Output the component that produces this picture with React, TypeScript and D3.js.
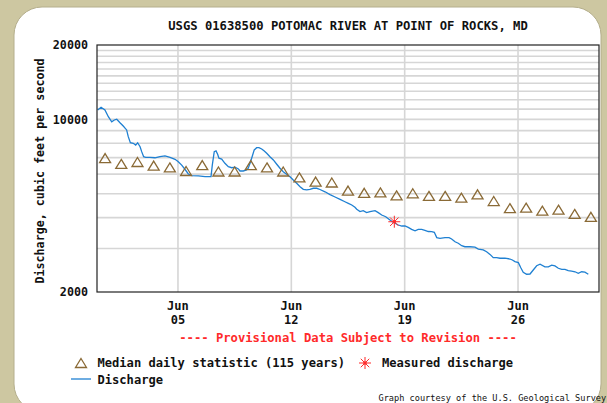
import React from "react";
import * as d3 from "d3";

const title = "USGS 01638500 POTOMAC RIVER AT POINT OF ROCKS, MD";
const yLabel = "Discharge, cubic feet per second";
const provisionalNote = "---- Provisional Data Subject to Revision ----";
const courtesy = "Graph courtesy of the U.S. Geological Survey";

const yTickValues = [2000, 10000, 20000];
const yGridValues = [
  3000, 4000, 5000, 6000, 7000, 8000, 9000, 10000,
  11000, 12000, 13000, 14000, 15000, 16000, 17000, 18000, 19000,
];

const startDate = new Date(2024, 4, 31);
const endDate = new Date(2024, 6, 1);
const xTickDates = [new Date(2024, 5, 5), new Date(2024, 5, 12), new Date(2024, 5, 19), new Date(2024, 5, 26)];
const xTickMonth = ["Jun", "Jun", "Jun", "Jun"];
const xTickDay = ["05", "12", "19", "26"];

// median daily statistic (115 years), May 31 .. Jun 30
const medianCfs = [
  6970, 6600, 6720, 6500, 6390, 6180, 6530, 6150, 6150, 6530, 6390,
  6150, 5820, 5600, 5550, 5150, 5040, 5060, 4920, 5020, 4900,
  4900, 4820, 4970, 4670, 4370, 4390, 4270, 4310, 4140, 4030,
];

// discharge, days after May 31 00:00
const dischargeDays = [
  0.04, 0.25, 0.49, 0.7, 0.91, 1.07, 1.22, 1.42, 1.62, 1.83, 1.93, 2.06, 2.24, 2.39, 2.51, 2.66, 2.76, 2.88,
  3.01, 3.27, 3.58, 3.89, 4.2, 4.51, 4.82, 5.02, 5.23, 5.43, 5.64, 5.85, 6.26, 6.67, 7.04, 7.12, 7.24, 7.35,
  7.45, 7.53, 7.7, 7.9, 8.11, 8.32, 8.52, 8.73, 8.83, 9.03, 9.24, 9.34, 9.45, 9.55, 9.71, 9.86, 10.0, 10.17,
  10.33, 10.48, 10.68, 10.89, 11.1, 11.3, 11.5, 11.71, 11.92, 12.12, 12.33, 12.54, 12.74, 12.95, 13.15, 13.36,
  13.57, 13.77, 14.08, 14.39, 14.7, 15.01, 15.31, 15.52, 15.73, 15.93, 16.04, 16.24, 16.44, 16.65, 16.86,
  17.17, 17.37, 17.58, 17.83, 18.03, 18.24, 18.4, 18.61, 18.82, 19.02, 19.22, 19.43, 19.64, 19.84, 20.05,
  20.25, 20.46, 20.67, 20.83, 20.98, 21.18, 21.49, 21.74, 21.9, 22.11, 22.31, 22.52, 22.72, 23.03, 23.34,
  23.55, 23.85, 24.06, 24.27, 24.47, 24.68, 24.89, 25.19, 25.5, 25.65, 25.81, 26.02, 26.18, 26.32, 26.53,
  26.74, 26.94, 27.15, 27.36, 27.66, 27.87, 28.08, 28.28, 28.49, 28.7, 28.9, 29.1, 29.31, 29.52, 29.72,
  29.93, 30.13, 30.34,
];
const dischargeCfs = [
  10910, 11190, 10910, 10250, 9780, 9940, 10010, 9690, 9400, 9060, 8510, 8040, 8000, 7870, 8040, 7750, 7400, 7060,
  7020, 7020, 6990, 7060, 7110, 7020, 6890, 6740, 6530, 6280, 6010, 5920, 5900, 5860, 5860, 6530, 7400, 7450,
  7220, 6960, 6910, 6640, 6430, 6370, 6400, 6300, 6180, 6180, 6240, 6340, 6640, 6960, 7520, 7680, 7680, 7590,
  7450, 7290, 7060, 6850, 6580, 6340, 6140, 5990, 5860, 5680, 5510, 5340, 5210, 5180, 5210, 5260,
  5260, 5200, 5090, 4960, 4850, 4740, 4640, 4570, 4500, 4405, 4325, 4230, 4270, 4190, 4230,
  4270, 4190, 4100, 4035, 3940, 3850, 3795, 3735, 3700, 3700, 3655, 3585, 3540, 3585, 3585,
  3555, 3515, 3510, 3490, 3320, 3300, 3320, 3320, 3280, 3195, 3150, 3080, 3050, 3050, 3040,
  2985, 2960, 2910, 2840, 2755, 2755, 2740, 2740, 2720, 2695, 2655, 2630, 2500, 2405, 2360,
  2365, 2455, 2555, 2590, 2530, 2530, 2570, 2550, 2495, 2470, 2470, 2440, 2430, 2415, 2380,
  2415, 2405, 2360,
];

const measuredDays = [18.36];
const measuredCfs = [3850];

const W = 607;
const H = 403;
const mono = "'DejaVu Sans Mono', monospace";
const blue = "#1f80d2";
const brown = "#8a6a36";
const red = "#ff2a2a";

const dayToDate = (d: number) => new Date(startDate.getTime() + d * 864e5);

const Tri = ({ cx, cy }: { cx: number; cy: number }) => (
  <path
    d={`M${cx},${cy - 4.5}L${cx + 5.5},${cy + 4.5}L${cx - 5.5},${cy + 4.5}Z`}
    fill="none"
    stroke={brown}
    strokeWidth={1.3}
  />
);

const Star = ({ cx, cy }: { cx: number; cy: number }) => (
  <g stroke={red} strokeWidth={1}>
    {[0, 45, 90, 135].map((a) => {
      const r = (a * Math.PI) / 180;
      const dx = Math.cos(r) * 6;
      const dy = Math.sin(r) * 6;
      return <line key={a} x1={cx - dx} y1={cy - dy} x2={cx + dx} y2={cy + dy} />;
    })}
    <circle cx={cx} cy={cy} r={1.8} fill={red} stroke="none" />
  </g>
);

export default function App() {
  const left = 97, right = 599, top = 45, bottom = 292;
  const x = d3.scaleTime().domain([startDate, endDate]).range([left, right]);
  const y = d3.scaleLog().domain([2000, 20000]).range([bottom, top]);

  const line = d3
    .line<number>()
    .x((d, i) => x(dayToDate(dischargeDays[i])))
    .y((d) => y(d));

  return (
    <svg width={W} height={H} style={{ position: "absolute", left: 0, top: 0 }} fontFamily={mono}>
      <rect width={W} height={H} fill="#cdc7a1" />
      <rect x={14} y={7} width={587} height={405} rx={28} fill="#fff" stroke="#b4ae8c" strokeWidth={1} />

      {yGridValues.map((v) => (
        <line key={v} x1={left} x2={right} y1={y(v)} y2={y(v)} stroke="#d6d6d6" strokeWidth={1.6} />
      ))}
      {xTickDates.map((d, i) => (
        <line key={i} x1={x(d)} x2={x(d)} y1={top} y2={bottom} stroke="#d6d6d6" strokeWidth={1.6} />
      ))}

      <path d={line(dischargeCfs) ?? ""} fill="none" stroke={blue} strokeWidth={1.3} />

      {medianCfs.map((v, i) => (
        <Tri key={i} cx={x(dayToDate(i + 0.5))} cy={y(v)} />
      ))}
      {measuredCfs.map((v, i) => (
        <Star key={i} cx={x(dayToDate(measuredDays[i]))} cy={y(v)} />
      ))}

      <rect x={left} y={top} width={right - left} height={bottom - top} fill="none" stroke="#222" strokeWidth={1.2} />

      <text x={(left + right) / 2} y={29.5} textAnchor="middle" fontSize={12.2} fontWeight="bold" fill="#111">
        {title}
      </text>

      {yTickValues.map((v) => (
        <text key={v} x={88} y={y(v) + 4.3} textAnchor="end" fontSize={11.7} fontWeight="bold" fill="#111">
          {v}
        </text>
      ))}
      <text transform="translate(44,171) rotate(-90)" textAnchor="middle" fontSize={11.7} fontWeight="bold" fill="#111">
        {yLabel}
      </text>

      {xTickDates.map((d, i) => (
        <g key={i} fontSize={12} fontWeight="bold" fill="#111" textAnchor="middle">
          <text x={x(d)} y={309.5}>{xTickMonth[i]}</text>
          <text x={x(d)} y={323.5}>{xTickDay[i]}</text>
        </g>
      ))}

      <text x={(left + right) / 2} y={341.5} textAnchor="middle" fontSize={12.2} fontWeight="bold" fill={red}>
        {provisionalNote}
      </text>

      <Tri cx={81} cy={363} />
      <text x={97.5} y={367} fontSize={12.1} fontWeight="bold" fill="#111">Median daily statistic (115 years)</text>
      <Star cx={365} cy={363} />
      <text x={382} y={367} fontSize={12.1} fontWeight="bold" fill="#111">Measured discharge</text>
      <line x1={71} x2={91} y1={379} y2={379} stroke={blue} strokeWidth={1.3} />
      <text x={97.5} y={384} fontSize={12.1} fontWeight="bold" fill="#111">Discharge</text>

      <text x={378.5} y={401} fontSize={8.6} fill="#111">{courtesy}</text>
    </svg>
  );
}
